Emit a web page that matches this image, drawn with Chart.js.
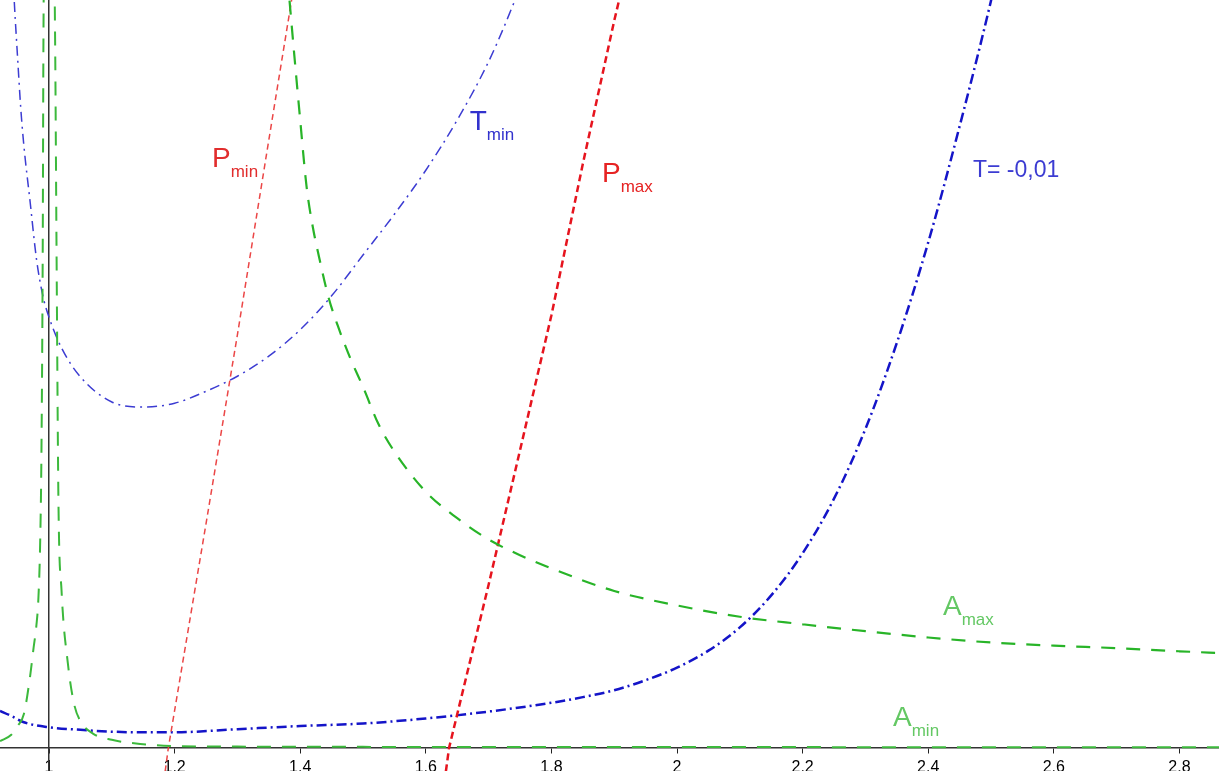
<!DOCTYPE html>
<html>
<head>
<meta charset="utf-8">
<script src="https://cdn.jsdelivr.net/npm/chart.js@4.4.1/dist/chart.umd.min.js"></script>
<style>
html, body { margin: 0; padding: 0; background: #fff; overflow: hidden; }
canvas { display: block; }
</style>
</head>
<body>
<canvas id="curves" width="1219" height="771"></canvas>
<script>
// Tick labels on the horizontal axis
const xTicks = [1, 1.2, 1.4, 1.6, 1.8, 2, 2.2, 2.4, 2.6, 2.8];

// T = -0,01
const tX = [0.922, 0.94, 0.96, 1.0, 1.05, 1.1, 1.15, 1.2, 1.3, 1.4, 1.5, 1.6, 1.7, 1.8, 1.85, 1.9, 1.95, 2.0, 2.05, 2.1, 2.15, 2.2, 2.25, 2.3, 2.35, 2.4, 2.45, 2.5, 2.52];
const tY = [0.059, 0.051, 0.041, 0.033, 0.029, 0.026, 0.025, 0.025, 0.030, 0.035, 0.039, 0.047, 0.058, 0.072, 0.081, 0.092, 0.108, 0.128, 0.155, 0.192, 0.243, 0.310, 0.397, 0.508, 0.645, 0.805, 0.990, 1.190, 1.28];

// T min
const tminX = [0.943, 0.945, 0.95, 0.955, 0.96, 0.97, 0.98, 0.99, 1.0, 1.02, 1.05, 1.1, 1.15, 1.2, 1.25, 1.3, 1.35, 1.4, 1.45, 1.5, 1.55, 1.6, 1.65, 1.7, 1.74, 1.76];
const tminY = [1.223, 1.183, 1.099, 1.019, 0.959, 0.869, 0.779, 0.721, 0.686, 0.637, 0.591, 0.551, 0.543, 0.549, 0.568, 0.592, 0.624, 0.666, 0.720, 0.785, 0.850, 0.920, 1.000, 1.093, 1.186, 1.239];

// P min
const pminX = [1.185, 1.19, 1.25, 1.3, 1.35, 1.385, 1.392];
const pminY = [-0.037, 0.0, 0.357, 0.658, 0.968, 1.183, 1.226];

// P max
const pmaxX = [1.632, 1.637, 1.7, 1.75, 1.8, 1.85, 1.9, 1.91];
const pmaxY = [-0.037, 0.0, 0.260, 0.474, 0.689, 0.930, 1.158, 1.2];

// A max
const amaxX = [1.383, 1.39, 1.4, 1.41, 1.42, 1.43, 1.445, 1.46, 1.48, 1.5, 1.525, 1.55, 1.6, 1.65, 1.7, 1.75, 1.8, 1.9, 2.0, 2.1, 2.2, 2.3, 2.4, 2.5, 2.6, 2.7, 2.8, 2.87];
const amaxY = [1.19, 1.11, 1.00, 0.895, 0.830, 0.782, 0.718, 0.672, 0.620, 0.575, 0.515, 0.472, 0.408, 0.366, 0.332, 0.307, 0.286, 0.250, 0.227, 0.209, 0.197, 0.186, 0.176, 0.168, 0.163, 0.159, 0.154, 0.151];

// A min, two branches either side of x = 1
const aminLeftX = [0.922, 0.94, 0.95, 0.96, 0.97, 0.975, 0.98, 0.983, 0.986, 0.988, 0.99, 0.991, 0.992];
const aminLeftY = [0.011, 0.021, 0.035, 0.054, 0.115, 0.156, 0.196, 0.236, 0.331, 0.475, 0.793, 1.096, 1.27];
const aminRightX = [1.008, 1.01, 1.012, 1.015, 1.02, 1.03, 1.04, 1.05, 1.07, 1.1, 1.15, 1.2, 1.3, 1.5, 2.0, 2.5, 2.87];
const aminRightY = [1.30, 1.096, 0.793, 0.395, 0.25, 0.135, 0.07, 0.043, 0.023, 0.013, 0.006, 0.003, 0.0022, 0.0018, 0.0015, 0.0013, 0.0012];

function pts(xs, ys) {
    return xs.map((v, i) => ({ x: v, y: ys[i] }));
}

const FONT = '"Liberation Sans", Arial, sans-serif';

// Curve names drawn next to the lines (placed in data coordinates)
const curveLabels = [
    { text: 'P', sub: 'min', x: 1.2596, y: 0.925, color: 'rgb(225,45,45)', size: 28 },
    { text: 'T', sub: 'min', x: 1.670, y: 0.984, color: 'rgb(50,50,205)', size: 28 },
    { text: 'P', sub: 'max', x: 1.8806, y: 0.901, color: 'rgb(230,35,35)', size: 28 },
    { text: 'T= -0,01', sub: '', x: 2.4713, y: 0.909, color: 'rgb(60,60,210)', size: 23 },
    { text: 'A', sub: 'max', x: 2.4236, y: 0.2118, color: 'rgb(100,200,100)', size: 28 },
    { text: 'A', sub: 'min', x: 2.344, y: 0.035, color: 'rgb(100,200,100)', size: 28 }
];

const labelPlugin = {
    id: 'curveLabels',
    afterDatasetsDraw(chart) {
        const ctx = chart.ctx;
        const xs = chart.scales.x, ys = chart.scales.y;
        curveLabels.forEach(l => {
            const px = xs.getPixelForValue(l.x);
            const py = ys.getPixelForValue(l.y);
            ctx.save();
            ctx.fillStyle = l.color;
            ctx.textBaseline = 'alphabetic';
            ctx.font = l.size + 'px ' + FONT;
            ctx.fillText(l.text, px, py);
            if (l.sub) {
                const w = ctx.measureText(l.text).width;
                ctx.font = '17px ' + FONT;
                ctx.fillText(l.sub, px + w, py + 10);
            }
            ctx.restore();
        });
    }
};

new Chart(document.getElementById('curves').getContext('2d'), {
    type: 'line',
    data: {
        datasets: [
            {
                label: 'A min',
                data: pts(aminLeftX, aminLeftY).concat([{ x: 1.0, y: null }], pts(aminRightX, aminRightY)),
                borderColor: 'rgb(60,185,60)',
                borderWidth: 2,
                borderDash: [14, 11],
                cubicInterpolationMode: 'monotone'
            },
            {
                label: 'A max',
                data: pts(amaxX, amaxY),
                borderColor: 'rgb(40,180,40)',
                borderWidth: 2.2,
                borderDash: [14, 11],
                cubicInterpolationMode: 'monotone'
            },
            {
                label: 'P min',
                data: pts(pminX, pminY),
                borderColor: 'rgb(235,70,70)',
                borderWidth: 1.5,
                borderDash: [6, 4],
                tension: 0
            },
            {
                label: 'P max',
                data: pts(pmaxX, pmaxY),
                borderColor: 'rgb(230,20,30)',
                borderWidth: 2.5,
                borderDash: [7, 4],
                tension: 0
            },
            {
                label: 'T min',
                data: pts(tminX, tminY),
                borderColor: 'rgb(60,60,210)',
                borderWidth: 1.5,
                borderDash: [10, 5, 2, 5],
                cubicInterpolationMode: 'monotone'
            },
            {
                label: 'T = -0,01',
                data: pts(tX, tY),
                borderColor: 'rgb(20,20,200)',
                borderWidth: 2.5,
                borderDash: [10, 4, 2, 4],
                cubicInterpolationMode: 'monotone'
            }
        ]
    },
    options: {
        responsive: false,
        animation: false,
        events: [],
        layout: { padding: 0 },
        elements: { point: { radius: 0 } },
        plugins: {
            legend: { display: false },
            tooltip: { enabled: false }
        },
        scales: {
            x: {
                type: 'linear',
                min: 0.92197,
                max: 2.86305,
                position: { y: 0 },
                afterBuildTicks: function(scale) {
                    scale.ticks = xTicks.map(v => ({ value: v }));
                },
                grid: { display: true, drawOnChartArea: false, drawTicks: true, tickLength: 5, color: '#222' },
                border: { display: true, color: '#333', width: 1.5 },
                ticks: {
                    color: '#000',
                    font: { family: FONT, size: 16 },
                    padding: 5,
                    maxRotation: 0,
                    autoSkip: false,
                    callback: v => String(v)
                }
            },
            y: {
                type: 'linear',
                min: -0.03662,
                max: 1.19108,
                position: { x: 1 },
                grid: { display: true, drawOnChartArea: false, drawTicks: false },
                border: { display: true, color: '#333', width: 1.5 },
                ticks: { display: false }
            }
        }
    },
    plugins: [labelPlugin]
});
</script>
</body>
</html>
